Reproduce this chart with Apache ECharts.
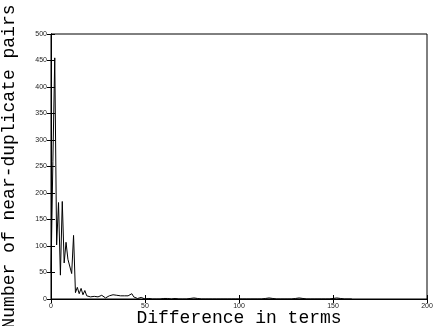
<!DOCTYPE html>
<html><head><meta charset="utf-8">
<script src="https://cdn.jsdelivr.net/npm/echarts@6/dist/echarts.min.js"></script>
<style>html,body{margin:0;padding:0;background:#fff}#c{width:435px;height:326px}</style>
</head><body><div id="c"></div>
<script>
const xTitle = "Difference in terms";
const yTitle = "Number of near-duplicate pairs";
const xTicks = [0, 50, 100, 150, 200];
const yTicks = [0, 50, 100, 150, 200, 250, 300, 350, 400, 450, 500];
// pair counts for term differences 0,1,2,...
const counts = [
  50, 260, 455, 102, 182, 45, 184, 68, 107, 75,
  73, 48, 120, 12, 22, 10, 20, 8, 16, 6,
  7, 4, 3, 5, 6, 4, 3, 7, 5, 2,
  4, 6, 3, 8, 9, 7, 5, 6, 5, 6,
  8, 6, 7, 10, 4, 2, 1, 0, 3, 1,
  0, 1, 1, 0, 0, 1, 0, 0, 0, 1,
  1, 2, 1, 1, 0, 0, 1, 0, 0, 0,
  0, 0, 0, 0, 1, 1, 2, 1, 1, 0,
  0, 0, 0, 1, 0, 0, 0, 0, 0, 0,
  0, 0, 0, 0, 0, 0, 0, 0, 0, 0,
  0, 0, 0, 0, 0, 0, 0, 0, 0, 0,
  0, 0, 0, 0, 1, 1, 2, 1, 1, 0,
  0, 0, 0, 0, 0, 0, 0, 0, 0, 1,
  1, 2, 2, 1, 1, 0, 0, 0, 0, 0,
  0, 0, 0, 0, 0, 0, 0, 0, 0, 0,
  1, 1, 2, 1, 1, 0, 0, 0, 0, 0, 0
];
const pts = counts.map((v, i) => [i, v]);
const chart = echarts.init(document.getElementById('c'));
const lblFont = {fontFamily: 'Liberation Sans', fontSize: 7, color: '#222'};
const titleFont = {fontFamily: 'Liberation Mono', fontSize: 18, color: '#000'};
chart.setOption({
  animation: false,
  grid: {left: 51, right: 8, top: 34, bottom: 27, containLabel: false, outerBoundsMode: 'none',
         show: true, borderColor: '#000', borderWidth: 1},
  xAxis: [{
    type: 'value', min: xTicks[0], max: xTicks[xTicks.length-1], interval: 50,
    axisLine: {show: true, lineStyle: {color: '#000'}},
    axisTick: {inside: true, length: 4, lineStyle: {color: '#000'}},
    axisLabel: Object.assign({margin: 4}, lblFont),
    splitLine: {show: false},
    name: xTitle, nameLocation: 'middle', nameGap: 10, nameMoveOverlap: false,
    nameTextStyle: titleFont
  }, {
    type: 'value', position: 'top', min: 0, max: 200, interval: 50,
    axisLine: {show: true, lineStyle: {color: '#000'}},
    axisTick: {inside: true, length: 4, lineStyle: {color: '#000'}},
    axisLabel: {show: false}, splitLine: {show: false}
  }],
  yAxis: [{
    type: 'value', min: yTicks[0], max: yTicks[yTicks.length-1], interval: 50,
    axisLine: {show: true, lineStyle: {color: '#000'}},
    axisTick: {inside: true, length: 4, lineStyle: {color: '#000'}},
    axisLabel: Object.assign({margin: 4}, lblFont),
    splitLine: {show: false},
    name: yTitle, nameLocation: 'middle', nameGap: 33, nameMoveOverlap: false,
    nameTextStyle: titleFont
  }, {
    type: 'value', position: 'right', min: 0, max: 500, interval: 50,
    axisLine: {show: true, lineStyle: {color: '#000'}},
    axisTick: {inside: true, length: 4, lineStyle: {color: '#000'}},
    axisLabel: {show: false}, splitLine: {show: false}
  }],
  series: [{
    type: 'line', data: pts, showSymbol: false, symbol: 'none',
    lineStyle: {color: '#000', width: 1}
  }]
});
</script></body></html>
